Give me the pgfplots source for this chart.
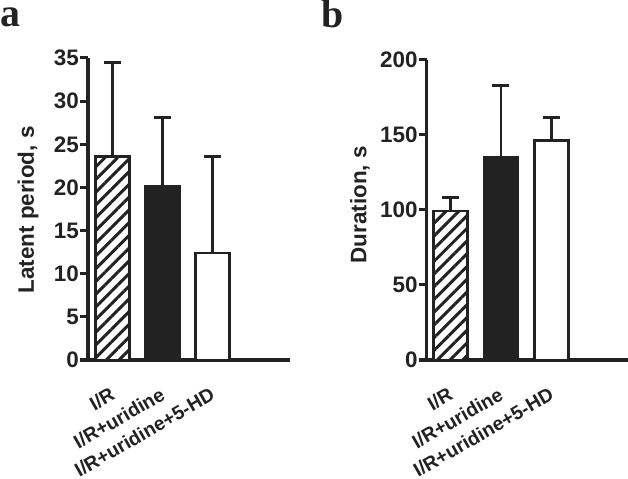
\documentclass[border=0pt]{standalone}
\usepackage{pgfplots}
\pgfplotsset{compat=1.18}
\usepackage{fontspec}
\setmainfont{Liberation Sans}
\newfontfamily\serifbold{Liberation Serif}
\usetikzlibrary{patterns.meta}
\definecolor{ink}{HTML}{222222}
\pgfplotsset{
  panel/.style={
    scale only axis,
    axis x line=bottom, axis y line=left,
    axis line style={-, line width=3bp, ink},
    ybar, bar width=34bp, bar shift=0pt,
    ymin=0,
    xtick={0,1,2},
    xticklabels={I/R, I/R+uridine, I/R+uridine+5-HD},
    major x tick style={draw=none},
    ytick align=outside,
    major tick length=8bp,
    major y tick style={line width=3bp, ink},
    /pgf/number format/assume math mode=true,
    yticklabel style={font=\fontsize{22.5}{24}\selectfont\bfseries, text=ink, inner sep=1bp},
    xticklabel style={font=\fontsize{19.5}{23}\selectfont\bfseries, text=ink, anchor=north east, xshift=-3bp, yshift=-17bp, rotate=30, inner sep=1bp},
    ylabel style={font=\fontsize{22.5}{24}\selectfont\bfseries, text=ink, rotate=0},
    error bars/y dir=plus, error bars/y explicit,
    error bars/error bar style={line width=2.5bp, ink},
    error bars/error mark options={rotate=90, mark size=8.5bp, line width=2.5bp, ink},
    clip=false,
  },
}
\begin{document}
\begin{tikzpicture}
\path[use as bounding box] (0,0) rectangle (628bp,479bp);
\node[anchor=base west, inner sep=0pt, font=\fontsize{40}{40}\selectfont\serifbold\bfseries, text=ink] at (0bp,452bp) {a};
\node[anchor=base west, inner sep=0pt, font=\fontsize{40}{40}\selectfont\serifbold\bfseries, text=ink] at (321bp,451bp) {b};
\begin{axis}[panel,
  at={(88bp,119bp)}, anchor=south west,
  width=202bp, height=302bp,
  xmin=-0.49, xmax=3.55,
  ymax=35, ytick={0,5,...,35},
  ylabel={Latent period, s},
  ylabel style={at={(axis description cs:-0.297,0.497)}, anchor=center, rotate=0},
]
\addplot[draw=ink, line width=2.5bp, postaction={pattern={Lines[angle=45, distance=9bp, line width=3bp]}, pattern color=ink}, fill=white]
  coordinates {(0,23.6) +- (0,10.9)};
\addplot[draw=ink, line width=2.5bp, fill=ink]
  coordinates {(1,20.1) +- (0,8.0)};
\addplot[draw=ink, line width=2.5bp, fill=white]
  coordinates {(2,12.4) +- (0,11.2)};
\end{axis}
\begin{axis}[panel,
  at={(426.7bp,119bp)}, anchor=south west,
  width=201.3bp, height=300bp,
  xmin=-0.47, xmax=3.52,
  ymax=200, ytick={0,50,...,200},
  ylabel={Duration, s},
  ylabel style={at={(axis description cs:-0.331,0.517)}, anchor=center},
]
\addplot[draw=ink, line width=2.5bp, postaction={pattern={Lines[angle=45, distance=9bp, line width=3bp]}, pattern color=ink}, fill=white]
  coordinates {(0,99.3) +- (0,9.1)};
\addplot[draw=ink, line width=2.5bp, fill=ink]
  coordinates {(1,135.1) +- (0,48.0)};
\addplot[draw=ink, line width=2.5bp, fill=white]
  coordinates {(2,146.2) +- (0,15.6)};
\end{axis}
\end{tikzpicture}
\end{document}
